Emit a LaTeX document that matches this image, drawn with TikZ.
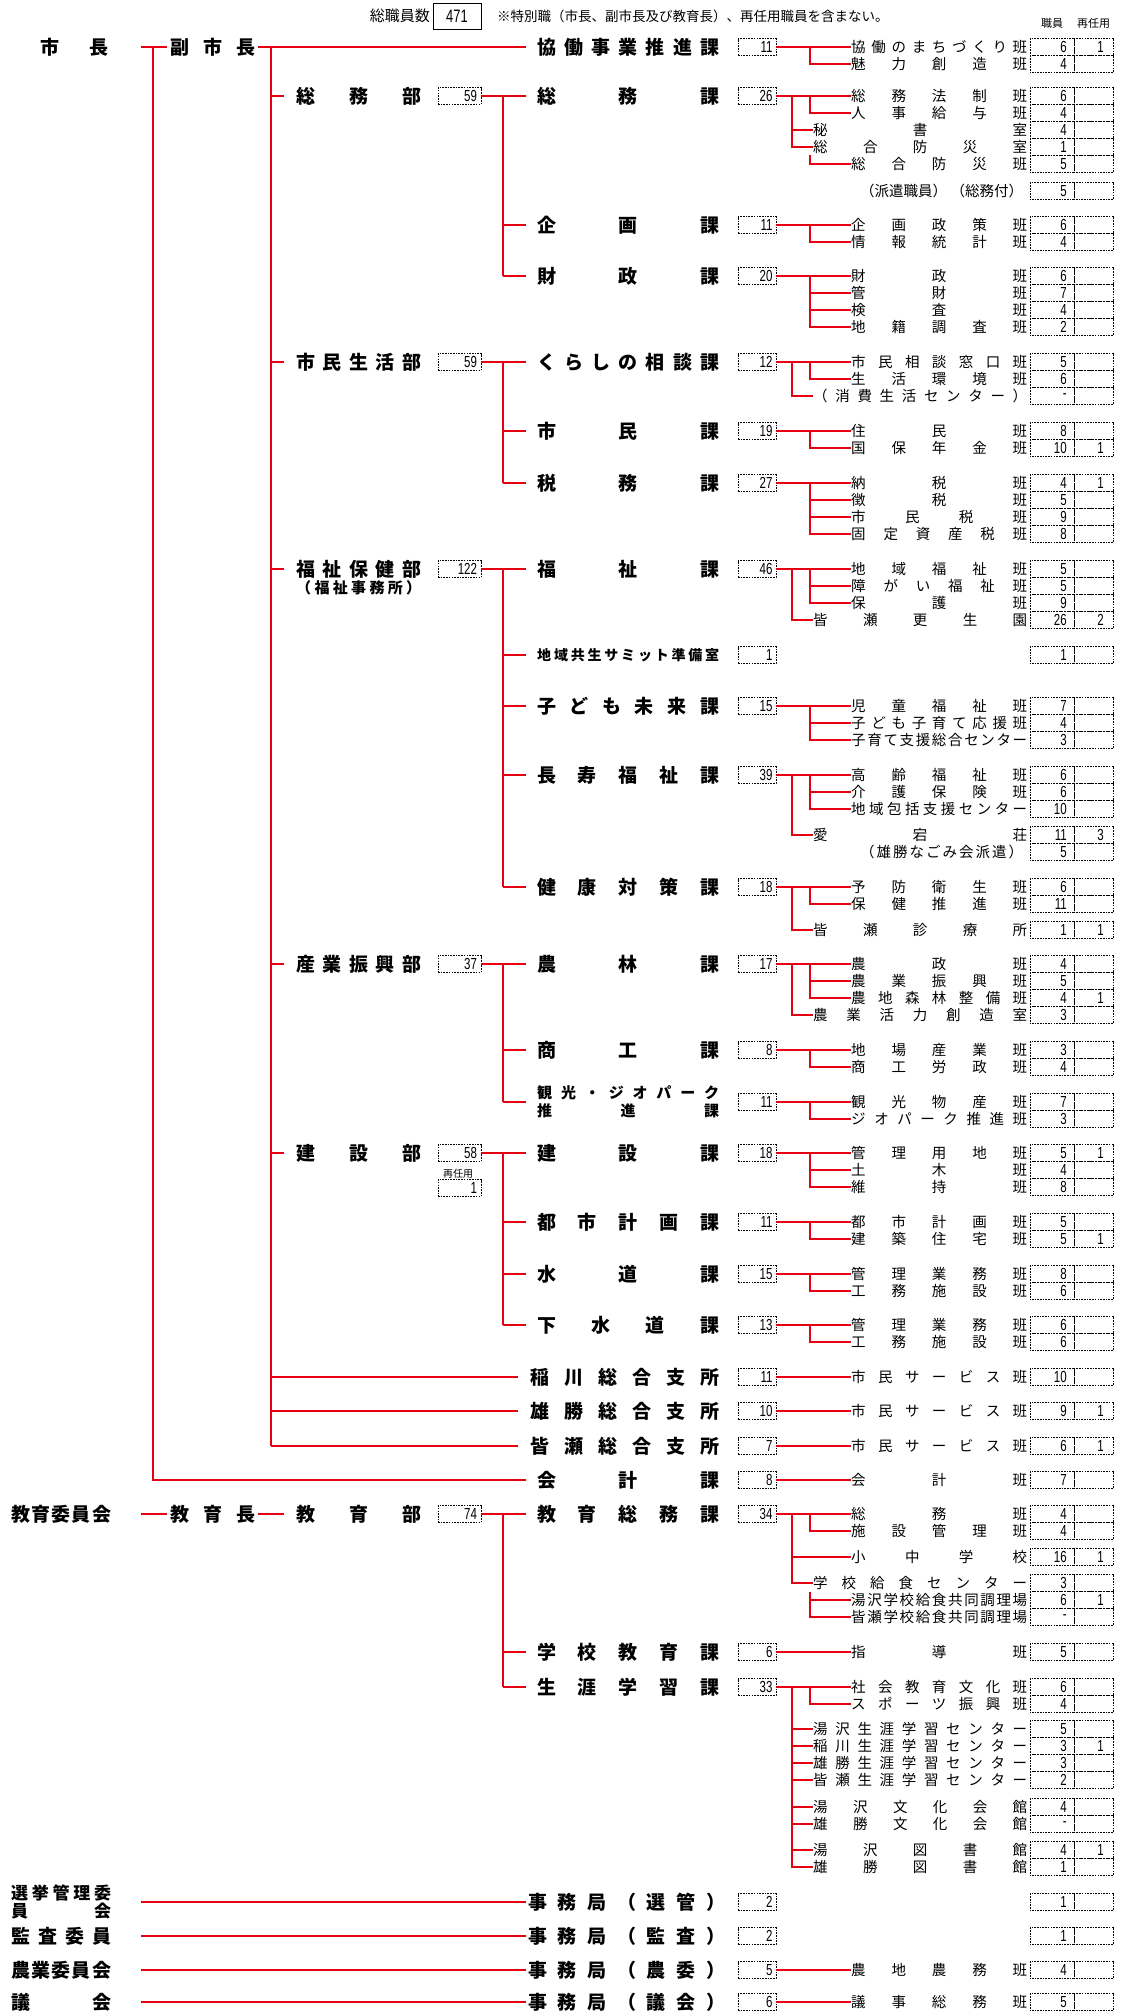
\documentclass[tikz,border=0pt]{standalone}
\usepackage{fontspec}
\setmainfont{Noto Sans CJK JP}
\newfontfamily\numf{Liberation Sans}[FakeStretch=0.72]
\definecolor{myred}{RGB}{230,0,18}
\def\jspend{JSPEND}
\def\jsp#1{\jspi#1\jspend}
\def\jspi#1{\ifx#1\jspend\else#1\expandafter\jspj\fi}
\def\jspj#1{\ifx#1\jspend\else\hfill#1\expandafter\jspj\fi}
\tikzset{
 rl/.style={draw=myred, line width=1.1pt},
 cellb/.style={draw=black, line width=0.6pt, dash pattern=on 1.6pt off 1.1pt},
 itemt/.style={inner sep=0pt, anchor=west, font=\fontsize{14.5}{16}\selectfont},
 sect/.style={inner sep=0pt, anchor=west, font=\fontsize{19}{20}\selectfont\bfseries},
 sects/.style={inner sep=0pt, anchor=west, font=\fontsize{15}{16}\selectfont\bfseries},
 numt/.style={inner sep=0pt, font=\fontsize{16}{17}\selectfont\numf},
 secbox/.style={draw=black, line width=0.6pt, dash pattern=on 1.6pt off 1.1pt, minimum width=38pt, minimum height=17pt, inner sep=0pt, font=\fontsize{16}{17}\selectfont\numf}
}
\newcommand\mycells[3]{%
  \draw[cellb] (1030,{#1-8.5}) rectangle (1074,{#1+8.5});
  \draw[cellb] (1074,{#1-8.5}) rectangle (1113,{#1+8.5});
  \node[numt,anchor=east] at (1067,#1) {#2};
  \node[numt,anchor=east] at (1104,#1) {#3};}
\newcommand\myitem[6]{%
  \pgfmathsetmacro\mywid{1027-#2}%
  \node[itemt] (#1) at (#2,#3) {\hbox to \mywid pt{\jsp{#4}}};
  \mycells{#3}{#5}{#6}}
\newcommand\mysecg[6]{%
  \pgfmathsetmacro\mywid{#6-#5}%
  \node[sect] (#1) at (#5,#2) {\hbox to \mywid pt{\jsp{#3}}};
  \node[secbox] (#1b) at (757,#2) {\hbox to 31pt{\hfill #4}};}
\newcommand\mysec[4]{\mysecg{#1}{#2}{#3}{#4}{537}{719}}
\newcommand\mydept[4]{%
  \node[sect] (#1) at (296,#2) {\hbox to 125pt{\jsp{#3}}};
  \node[secbox, minimum width=43pt] (#1b) at (459.5,#2) {\hbox to 35pt{\hfill #4}};}
\newcommand\mybr[3]{\draw[rl] (#1,#2) |- (#3.west);}
\newcommand\mymain[2]{\draw[rl] (#1b.east) -- (#2.west);}
\begin{document}
\begin{tikzpicture}[x=1pt,y=-1pt]
\useasboundingbox (0,0) rectangle (1120,2011);
% header
\node[anchor=east, inner sep=0pt, font=\fontsize{15}{16}\selectfont] (hdr) at (430,16) {総職員数};
\node[draw=black, line width=1pt, minimum width=48pt, minimum height=26pt, inner sep=0pt, font=\fontsize{18}{18}\selectfont\numf] (total) at (457,16) {471};
\node[anchor=west, inner sep=0pt, font=\fontsize{13.5}{14}\selectfont] (note) at (497,16) {※特別職（市長、副市長及び教育長）、再任用職員を含まない。};
\node[anchor=west, inner sep=0pt, font=\fontsize{11}{12}\selectfont] (h1) at (1041,23) {職員};
\node[anchor=west, inner sep=0pt, font=\fontsize{11}{12}\selectfont] (h2) at (1077,23) {再任用};
% top left
\node[sect] (mayor) at (40,47) {\hbox to 68pt{\jsp{市長}}};
\node[sect] (vice) at (170,47) {\hbox to 85pt{\jsp{副市長}}};
\draw[rl] (141,47) -- (167,47);
\draw[rl] (153,47) -- (153,1480) -- (526,1480);
\draw[rl] (258,47) -- (526,47);
\draw[rl] (271,47) -- (271,1446);
\foreach \yy in {96,362,569,964,1153} {\draw[rl] (271,\yy) -- (284,\yy);}
\foreach \yy in {1377,1411,1446} {\draw[rl] (271,\yy) -- (518,\yy);}
% 協働
\mysec{kyo}{47}{協働事業推進課}{11}
\myitem{kyo1}{851}{47}{協働のまちづくり班}{6}{1}
\myitem{kyo2}{851}{64}{魅力創造班}{4}{}
\mymain{kyo}{kyo1}
\mybr{810}{47}{kyo2}
% 総務部
\mydept{somubu}{96}{総務部}{59}
\draw[rl] (somubub.east) -- (526,96);
\draw[rl] (503,96) -- (503,276);
\foreach \yy in {225,276} {\draw[rl] (503,\yy) -- (526,\yy);}
\mysec{somu}{96}{総務課}{26}
\myitem{somu1}{851}{96}{総務法制班}{6}{}
\myitem{somu2}{851}{113}{人事給与班}{4}{}
\myitem{somu3}{813}{130}{秘書室}{4}{}
\myitem{somu4}{813}{147}{総合防災室}{1}{}
\myitem{somu5}{851}{164}{総合防災班}{5}{}
\mymain{somu}{somu1}
\mybr{810}{96}{somu2}
\mybr{792}{96}{somu3}
\mybr{792}{96}{somu4}
\mybr{810}{155}{somu5}
\node[itemt] (haken) at (860,191) {\hbox to 163pt{（派遣職員）\hfill（総務付）}};
\mycells{191}{5}{}
\mysec{kika}{225}{企画課}{11}
\myitem{kika1}{851}{225}{企画政策班}{6}{}
\myitem{kika2}{851}{242}{情報統計班}{4}{}
\mymain{kika}{kika1}
\mybr{810}{225}{kika2}
\mysec{zai}{276}{財政課}{20}
\myitem{zai1}{851}{276}{財政班}{6}{}
\myitem{zai2}{851}{293}{管財班}{7}{}
\myitem{zai3}{851}{310}{検査班}{4}{}
\myitem{zai4}{851}{327}{地籍調査班}{2}{}
\mymain{zai}{zai1}
\mybr{810}{276}{zai2}
\mybr{810}{276}{zai3}
\mybr{810}{276}{zai4}
% 市民生活部
\mydept{shimbu}{362}{市民生活部}{59}
\draw[rl] (shimbub.east) -- (526,362);
\draw[rl] (503,362) -- (503,483);
\foreach \yy in {431,483} {\draw[rl] (503,\yy) -- (526,\yy);}
\mysec{kura}{362}{くらしの相談課}{12}
\myitem{kura1}{851}{362}{市民相談窓口班}{5}{}
\myitem{kura2}{851}{379}{生活環境班}{6}{}
\myitem{kura3}{813}{396}{（消費生活センター）}{-}{}
\mymain{kura}{kura1}
\mybr{810}{362}{kura2}
\mybr{792}{362}{kura3}
\mysec{shim}{431}{市民課}{19}
\myitem{shim1}{851}{431}{住民班}{8}{}
\myitem{shim2}{851}{448}{国保年金班}{10}{1}
\mymain{shim}{shim1}
\mybr{810}{431}{shim2}
\mysec{zei}{483}{税務課}{27}
\myitem{zei1}{851}{483}{納税班}{4}{1}
\myitem{zei2}{851}{500}{徴税班}{5}{}
\myitem{zei3}{851}{517}{市民税班}{9}{}
\myitem{zei4}{851}{534}{固定資産税班}{8}{}
\mymain{zei}{zei1}
\mybr{810}{483}{zei2}
\mybr{810}{483}{zei3}
\mybr{810}{483}{zei4}
% 福祉保健部
\mydept{fukubu}{569}{福祉保健部}{122}
\node[sects] (fukujimu) at (296,588) {\hbox to 125pt{\jsp{（福祉事務所）}}};
\draw[rl] (fukubub.east) -- (526,569);
\draw[rl] (503,569) -- (503,887);
\foreach \yy in {655,706,775,887} {\draw[rl] (503,\yy) -- (526,\yy);}
\mysec{fuku}{569}{福祉課}{46}
\myitem{fuku1}{851}{569}{地域福祉班}{5}{}
\myitem{fuku2}{851}{586}{障がい福祉班}{5}{}
\myitem{fuku3}{851}{603}{保護班}{9}{}
\myitem{fuku4}{813}{620}{皆瀬更生園}{26}{2}
\mymain{fuku}{fuku1}
\mybr{810}{569}{fuku2}
\mybr{810}{569}{fuku3}
\mybr{792}{569}{fuku4}
\node[sects, font=\fontsize{14}{15}\selectfont\bfseries] (kyos) at (537,655) {\hbox to 182pt{\jsp{地域共生サミット準備室}}};
\node[secbox] (kyosb) at (757,655) {\hbox to 31pt{\hfill 1}};
\mycells{655}{1}{}
\mysec{kodo}{706}{子ども未来課}{15}
\myitem{kodo1}{851}{706}{児童福祉班}{7}{}
\myitem{kodo2}{851}{723}{子ども子育て応援班}{4}{}
\myitem{kodo3}{851}{740}{子育て支援総合センター}{3}{}
\mymain{kodo}{kodo1}
\mybr{810}{706}{kodo2}
\mybr{810}{706}{kodo3}
\mysec{chou}{775}{長寿福祉課}{39}
\myitem{chou1}{851}{775}{高齢福祉班}{6}{}
\myitem{chou2}{851}{792}{介護保険班}{6}{}
\myitem{chou3}{851}{809}{地域包括支援センター}{10}{}
\myitem{chou4}{813}{835}{愛宕荘}{11}{3}
\mymain{chou}{chou1}
\mybr{810}{775}{chou2}
\mybr{810}{775}{chou3}
\mybr{792}{775}{chou4}
\node[itemt] (nagomi) at (860,852) {\hbox to 163pt{\jsp{（雄勝なごみ会派遣）}}};
\mycells{852}{5}{}
\mysec{ken}{887}{健康対策課}{18}
\myitem{ken1}{851}{887}{予防衛生班}{6}{}
\myitem{ken2}{851}{904}{保健推進班}{11}{}
\myitem{ken3}{813}{930}{皆瀬診療所}{1}{1}
\mymain{ken}{ken1}
\mybr{810}{887}{ken2}
\mybr{792}{887}{ken3}
% 産業振興部
\mydept{sanbu}{964}{産業振興部}{37}
\draw[rl] (sanbub.east) -- (526,964);
\draw[rl] (503,964) -- (503,1102);
\foreach \yy in {1050,1102} {\draw[rl] (503,\yy) -- (526,\yy);}
\mysec{nou}{964}{農林課}{17}
\myitem{nou1}{851}{964}{農政班}{4}{}
\myitem{nou2}{851}{981}{農業振興班}{5}{}
\myitem{nou3}{851}{998}{農地森林整備班}{4}{1}
\myitem{nou4}{813}{1015}{農業活力創造室}{3}{}
\mymain{nou}{nou1}
\mybr{810}{964}{nou2}
\mybr{810}{964}{nou3}
\mybr{792}{964}{nou4}
\mysec{shou}{1050}{商工課}{8}
\myitem{shou1}{851}{1050}{地場産業班}{3}{}
\myitem{shou2}{851}{1067}{商工労政班}{4}{}
\mymain{shou}{shou1}
\mybr{810}{1050}{shou2}
\node[sects] (kan) at (537,1093) {\hbox to 182pt{\jsp{観光・ジオパーク}}};
\node[sects] (kanl2) at (537,1111) {\hbox to 182pt{\jsp{推進課}}};
\node[secbox] (kanb) at (757,1102) {\hbox to 31pt{\hfill 11}};
\myitem{kan1}{851}{1102}{観光物産班}{7}{}
\myitem{kan2}{851}{1119}{ジオパーク推進班}{3}{}
\mymain{kan}{kan1}
\mybr{810}{1102}{kan2}
% 建設部
\mydept{kenbu}{1153}{建設部}{58}
\node[inner sep=0pt, font=\fontsize{10}{10}\selectfont] (sainin) at (458,1174) {再任用};
\node[secbox, minimum width=43pt] (kenbu2) at (459.5,1188) {\hbox to 35pt{\hfill 1}};
\draw[rl] (kenbub.east) -- (526,1153);
\draw[rl] (503,1153) -- (503,1325);
\foreach \yy in {1222,1274,1325} {\draw[rl] (503,\yy) -- (526,\yy);}
\mysec{kens}{1153}{建設課}{18}
\myitem{kens1}{851}{1153}{管理用地班}{5}{1}
\myitem{kens2}{851}{1170}{土木班}{4}{}
\myitem{kens3}{851}{1187}{維持班}{8}{}
\mymain{kens}{kens1}
\mybr{810}{1153}{kens2}
\mybr{810}{1153}{kens3}
\mysec{toshi}{1222}{都市計画課}{11}
\myitem{toshi1}{851}{1222}{都市計画班}{5}{}
\myitem{toshi2}{851}{1239}{建築住宅班}{5}{1}
\mymain{toshi}{toshi1}
\mybr{810}{1222}{toshi2}
\mysec{sui}{1274}{水道課}{15}
\myitem{sui1}{851}{1274}{管理業務班}{8}{}
\myitem{sui2}{851}{1291}{工務施設班}{6}{}
\mymain{sui}{sui1}
\mybr{810}{1274}{sui2}
\mysec{gesui}{1325}{下水道課}{13}
\myitem{gesui1}{851}{1325}{管理業務班}{6}{}
\myitem{gesui2}{851}{1342}{工務施設班}{6}{}
\mymain{gesui}{gesui1}
\mybr{810}{1325}{gesui2}
% 支所・会計
\mysecg{ina}{1377}{稲川総合支所}{11}{530}{719}
\myitem{ina1}{851}{1377}{市民サービス班}{10}{}
\mymain{ina}{ina1}
\mysecg{oga}{1411}{雄勝総合支所}{10}{530}{719}
\myitem{oga1}{851}{1411}{市民サービス班}{9}{1}
\mymain{oga}{oga1}
\mysecg{mina}{1446}{皆瀬総合支所}{7}{530}{719}
\myitem{mina1}{851}{1446}{市民サービス班}{6}{1}
\mymain{mina}{mina1}
\mysec{kai}{1480}{会計課}{8}
\myitem{kai1}{851}{1480}{会計班}{7}{}
\mymain{kai}{kai1}
% 教育
\node[sect] (kyoiku) at (11,1514) {\hbox to 100pt{\jsp{教育委員会}}};
\draw[rl] (141,1514) -- (167,1514);
\node[sect] (kyoikucho) at (170,1514) {\hbox to 85pt{\jsp{教育長}}};
\draw[rl] (258,1514) -- (284,1514);
\mydept{kyobu}{1514}{教育部}{74}
\draw[rl] (kyobub.east) -- (526,1514);
\draw[rl] (503,1514) -- (503,1687);
\foreach \yy in {1652,1687} {\draw[rl] (503,\yy) -- (526,\yy);}
\mysec{kyoso}{1514}{教育総務課}{34}
\myitem{kyoso1}{851}{1514}{総務班}{4}{}
\myitem{kyoso2}{851}{1531}{施設管理班}{4}{}
\myitem{kyoso3}{851}{1557}{小中学校}{16}{1}
\myitem{kyoso4}{813}{1583}{学校給食センター}{3}{}
\myitem{kyoso5}{851}{1600}{湯沢学校給食共同調理場}{6}{1}
\myitem{kyoso6}{851}{1617}{皆瀬学校給食共同調理場}{-}{}
\mymain{kyoso}{kyoso1}
\mybr{810}{1514}{kyoso2}
\mybr{792}{1514}{kyoso3}
\mybr{792}{1514}{kyoso4}
\mybr{810}{1592}{kyoso5}
\mybr{810}{1592}{kyoso6}
\mysec{gakko}{1652}{学校教育課}{6}
\myitem{gakko1}{851}{1652}{指導班}{5}{}
\mymain{gakko}{gakko1}
\mysec{shog}{1687}{生涯学習課}{33}
\myitem{shog1}{851}{1687}{社会教育文化班}{6}{}
\myitem{shog2}{851}{1704}{スポーツ振興班}{4}{}
\myitem{shog3}{813}{1729}{湯沢生涯学習センター}{5}{}
\myitem{shog4}{813}{1746}{稲川生涯学習センター}{3}{1}
\myitem{shog5}{813}{1763}{雄勝生涯学習センター}{3}{}
\myitem{shog6}{813}{1780}{皆瀬生涯学習センター}{2}{}
\myitem{shog7}{813}{1807}{湯沢文化会館}{4}{}
\myitem{shog8}{813}{1824}{雄勝文化会館}{-}{}
\myitem{shog9}{813}{1850}{湯沢図書館}{4}{1}
\myitem{shog10}{813}{1867}{雄勝図書館}{1}{}
\mymain{shog}{shog1}
\mybr{810}{1687}{shog2}
\foreach \k in {3,...,10} {\mybr{792}{1687}{shog\k}}
% 委員会
\node[sect, font=\fontsize{17}{18}\selectfont\bfseries] (senkyo) at (11,1893) {\hbox to 100pt{\jsp{選挙管理委}}};
\node[sect, font=\fontsize{17}{18}\selectfont\bfseries] (senkyo2) at (11,1911) {\hbox to 100pt{\jsp{員会}}};
\node[sect] (kansa) at (11,1936) {\hbox to 100pt{\jsp{監査委員}}};
\node[sect] (nogyo) at (11,1970) {\hbox to 100pt{\jsp{農業委員会}}};
\node[sect] (gikai) at (11,2002) {\hbox to 100pt{\jsp{議会}}};
\foreach \yy in {1902,1936,1970,2002} {\draw[rl] (141,\yy) -- (526,\yy);}
\mysecg{jsen}{1902}{事務局（選管）}{2}{528}{725}
\mycells{1902}{1}{}
\mysecg{jkan}{1936}{事務局（監査）}{2}{528}{725}
\mycells{1936}{1}{}
\mysecg{jnou}{1970}{事務局（農委）}{5}{528}{725}
\myitem{jnou1}{851}{1970}{農地農務班}{4}{}
\mymain{jnou}{jnou1}
\mysecg{jgik}{2002}{事務局（議会）}{6}{528}{725}
\myitem{jgik1}{851}{2002}{議事総務班}{5}{}
\mymain{jgik}{jgik1}
\end{tikzpicture}
\end{document}
